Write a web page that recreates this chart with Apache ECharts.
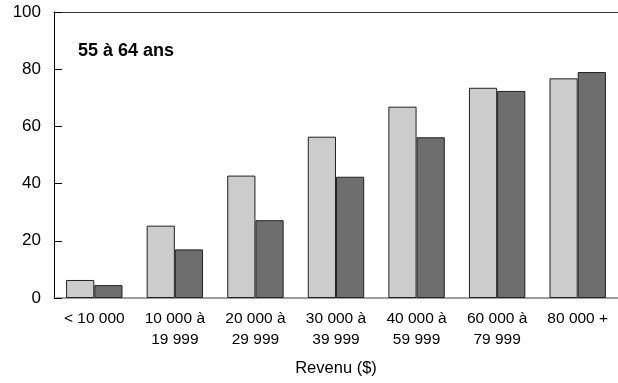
<!DOCTYPE html>
<html>
<head>
<meta charset="utf-8">
<script src="https://cdn.jsdelivr.net/npm/echarts@6/dist/echarts.min.js"></script>
<style>
  html, body { margin: 0; padding: 0; background: #fff; }
  #main { width: 618px; height: 383px; }
</style>
</head>
<body>
<div id="main"></div>
<script>
// catégories de revenu
var categories = ['< 10 000', '10 000 à\n19 999', '20 000 à\n29 999', '30 000 à\n39 999',
                  '40 000 à\n59 999', '60 000 à\n79 999', '80 000 +'];
var seriesLight = [6.3, 25.3, 42.8, 56.4, 66.9, 73.5, 76.8];
var seriesDark = [4.5, 17.0, 27.2, 42.4, 56.2, 72.4, 79.0];
var yTicks = [0, 20, 40, 60, 80, 100];

var myChart = echarts.init(document.getElementById('main'));

var font = 'Liberation Sans, Arial, sans-serif';

var option = {
    animation: false,
    textStyle: { fontFamily: font },
    title: {
        text: '55 à 64 ans',
        left: 73,
        top: 37,
        textStyle: { fontSize: 18, fontWeight: 'bold', color: '#000', fontFamily: font }
    },
    grid: { left: 54, top: 12, width: 569, height: 286 },
    xAxis: [
        {
            type: 'category',
            data: categories,
            axisLine: { lineStyle: { color: '#808080', width: 1.5 } },
            axisTick: { show: false },
            axisLabel: { color: '#000', fontSize: 15.5, lineHeight: 21, margin: 10, interval: 0 },
            name: 'Revenu ($)',
            nameLocation: 'middle',
            nameGap: 62,
            nameTextStyle: { color: '#000', fontSize: 16.5 }
        },
        {
            type: 'category',
            position: 'top',
            data: categories,
            axisLine: { lineStyle: { color: '#333', width: 1 } },
            axisTick: { show: false },
            axisLabel: { show: false }
        }
    ],
    yAxis: {
        type: 'value',
        min: yTicks[0],
        max: yTicks[yTicks.length - 1],
        interval: 20,
        axisLine: { show: true, lineStyle: { color: '#000', width: 1 } },
        axisTick: { show: true, inside: true, length: 8, lineStyle: { color: '#000' } },
        axisLabel: { color: '#000', fontSize: 17, margin: 13 },
        splitLine: { show: false }
    },
    series: [
        {
            type: 'bar',
            data: seriesLight,
            barGap: '0%',
            barCategoryGap: '30%',
            itemStyle: { color: '#cccccc', borderColor: '#222', borderWidth: 1 }
        },
        {
            type: 'bar',
            data: seriesDark,
            itemStyle: { color: '#6e6e6e', borderColor: '#222', borderWidth: 1 }
        }
    ]
};

myChart.setOption(option);
</script>
</body>
</html>
